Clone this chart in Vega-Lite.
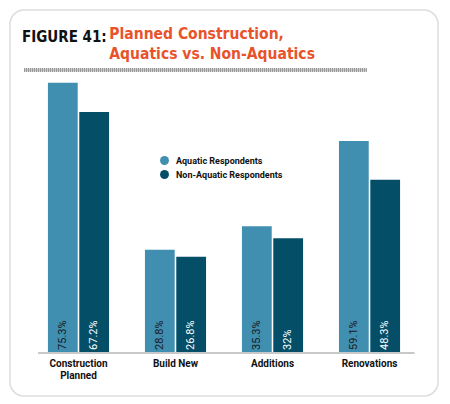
{
  "$schema": "https://vega.github.io/schema/vega-lite/v6.json",
  "width": 428,
  "height": 386,
  "autosize": {"type": "none"},
  "padding": {"left": 10, "top": 10, "right": 12, "bottom": 8},
  "background": "white",
  "config": {
    "view": {"stroke": "#dddddd", "strokeWidth": 1.5, "cornerRadius": 14, "fill": "white"}
  },
  "title": {
    "text": "FIGURE 41:",
    "subtitle": [
      "\u200b\u00a0\u00a0\u00a0\u00a0\u00a0\u00a0\u00a0\u00a0\u00a0\u00a0\u00a0\u00a0\u00a0\u00a0\u00a0\u00a0\u00a0\u00a0Planned Construction,",
      "\u200b\u00a0\u00a0\u00a0\u00a0\u00a0\u00a0\u00a0\u00a0\u00a0\u00a0\u00a0\u00a0\u00a0\u00a0\u00a0\u00a0\u00a0\u00a0Aquatics vs. Non-Aquatics"
    ],
    "anchor": "start",
    "frame": "group",
    "orient": "top",
    "offset": -55,
    "dx": 12,
    "font": "DejaVu Sans Condensed",
    "fontSize": 15,
    "fontWeight": "bold",
    "color": "#111111",
    "subtitleFont": "DejaVu Sans Condensed",
    "subtitleFontSize": 15.5,
    "subtitleFontWeight": "bold",
    "subtitleColor": "#e8532b",
    "subtitlePadding": -18,
    "subtitleLineHeight": 20
  },
  "data": {
    "values": [
      {"category": "Construction Planned", "group": "Aquatic Respondents", "value": 75.3, "label": "75.3%"},
      {"category": "Construction Planned", "group": "Non-Aquatic Respondents", "value": 67.2, "label": "67.2%"},
      {"category": "Build New", "group": "Aquatic Respondents", "value": 28.8, "label": "28.8%"},
      {"category": "Build New", "group": "Non-Aquatic Respondents", "value": 26.8, "label": "26.8%"},
      {"category": "Additions", "group": "Aquatic Respondents", "value": 35.3, "label": "35.3%"},
      {"category": "Additions", "group": "Non-Aquatic Respondents", "value": 32, "label": "32%"},
      {"category": "Renovations", "group": "Aquatic Respondents", "value": 59.1, "label": "59.1%"},
      {"category": "Renovations", "group": "Non-Aquatic Respondents", "value": 48.3, "label": "48.3%"}
    ]
  },
  "layer": [
    {
      "mark": {"type": "bar"},
      "encoding": {
        "x": {
          "field": "category",
          "type": "nominal",
          "sort": ["Construction Planned", "Build New", "Additions", "Renovations"],
          "scale": {"paddingInner": 0.37, "paddingOuter": 0.391},
          "axis": {
            "orient": "bottom",
            "offset": -43,
            "title": null,
            "domain": false,
            "ticks": false,
            "labelAngle": 0,
            "labelFont": "Roboto",
            "labelFontWeight": "bold",
            "labelFontSize": 10,
            "labelColor": "#111111",
            "labelPadding": 5,
            "labelLineHeight": 12,
            "labelExpr": "datum.label == 'Construction Planned' ? ['Construction', 'Planned'] : datum.label"
          }
        },
        "xOffset": {
          "field": "group",
          "type": "nominal",
          "scale": {"paddingInner": 0.05}
        },
        "y": {
          "field": "value",
          "type": "quantitative",
          "scale": {"domain": [-12, 95.6], "nice": false, "zero": false},
          "axis": null
        },
        "color": {
          "field": "group",
          "type": "nominal",
          "scale": {"domain": ["Aquatic Respondents", "Non-Aquatic Respondents"], "range": ["#408fb0", "#044e68"]},
          "legend": {
            "title": null,
            "orient": "none",
            "legendX": 150,
            "legendY": 146,
            "symbolType": "circle",
            "symbolSize": 80,
            "symbolStrokeWidth": 0,
            "labelFont": "Roboto",
            "labelFontWeight": "bold",
            "labelFontSize": 9,
            "labelColor": "#111111",
            "labelOffset": 7,
            "rowPadding": 4
          }
        }
      }
    },
    {
      "mark": {"type": "text", "angle": 270, "align": "left", "baseline": "middle", "dx": 3, "font": "Roboto", "fontSize": 11},
      "encoding": {
        "x": {"field": "category", "type": "nominal", "sort": ["Construction Planned", "Build New", "Additions", "Renovations"]},
        "xOffset": {"field": "group", "type": "nominal"},
        "y": {"datum": 0},
        "text": {"field": "label"},
        "color": {
          "condition": {"test": "datum.group == 'Aquatic Respondents'", "value": "#1a1a1a"},
          "value": "#ffffff"
        }
      }
    },
    {
      "mark": {"type": "rule", "color": "#c8c8c8", "strokeWidth": 1.5},
      "encoding": {
        "y": {"datum": 0},
        "x": {"datum": "Construction Planned", "bandPosition": -0.16},
        "x2": {"datum": "Renovations", "bandPosition": 1.23}
      }
    },
    {
      "mark": {"type": "rule", "color": "#9a9a9a", "strokeWidth": 3, "strokeDash": [1, 1]},
      "encoding": {
        "y": {"datum": 78.9},
        "x": {"datum": "Construction Planned", "bandPosition": -0.39},
        "x2": {"datum": "Renovations", "bandPosition": 0.45}
      }
    }
  ]
}
